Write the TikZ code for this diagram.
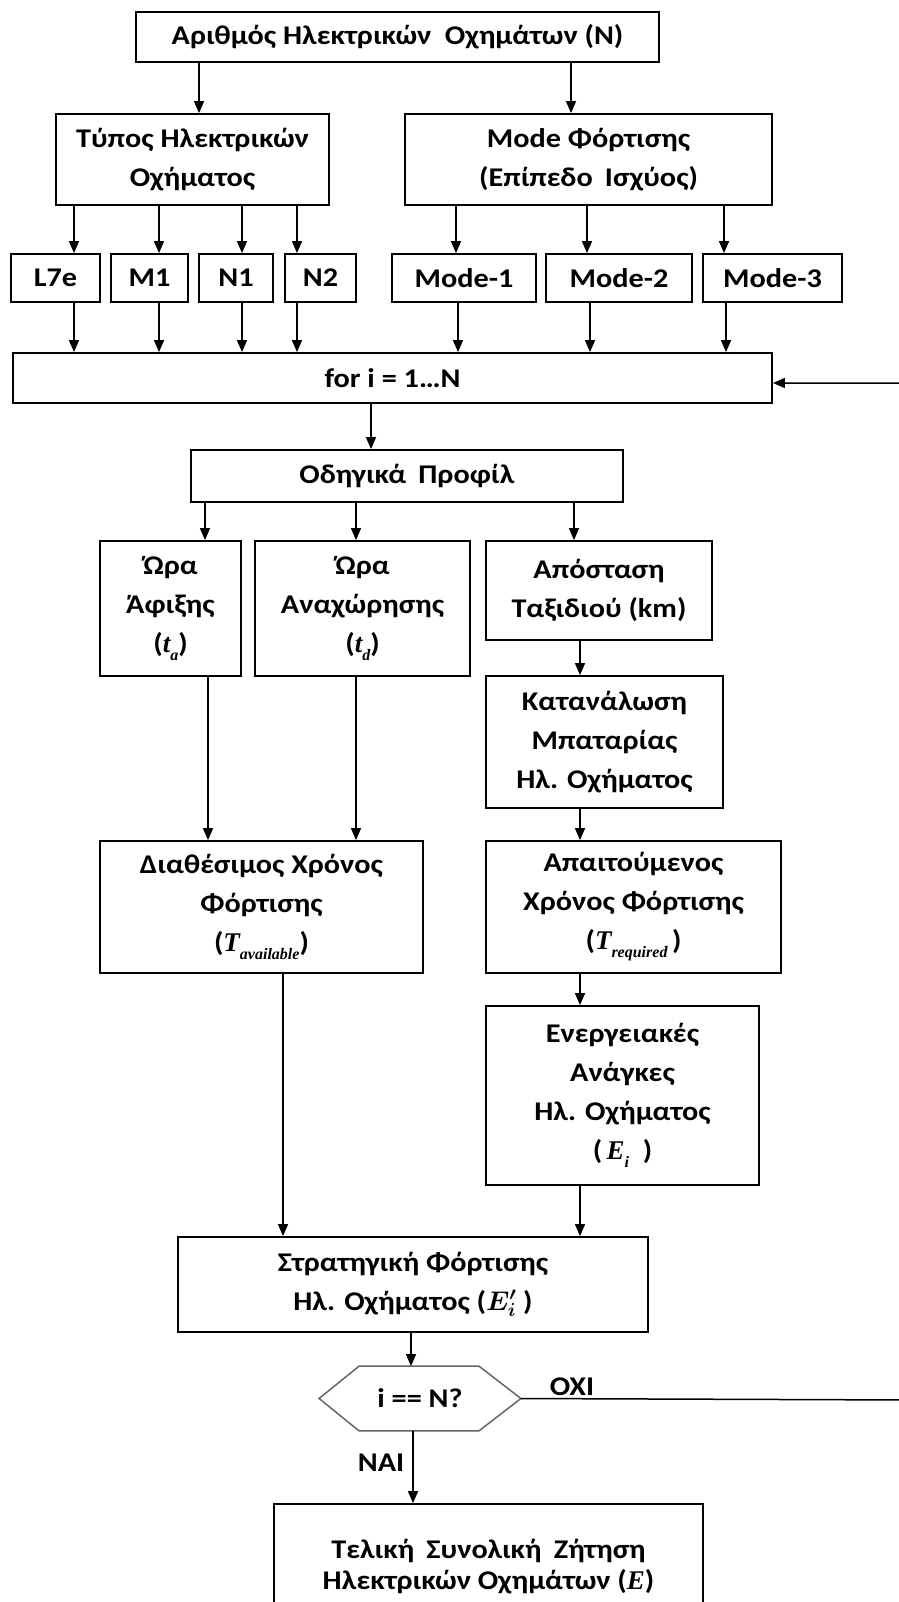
\RequirePackage{fix-cm}
\documentclass[tikz,border=0pt]{standalone}
\usepackage{fontspec}
\usepackage{bm}
\setmainfont{Carlito}[FakeStretch=1.12]
\newfontfamily\mf{Liberation Serif}
\usetikzlibrary{arrows.meta}
\newcommand\vsym[2]{{\mf\bfseries\itshape #1}\raisebox{-0.3em}{\fontsize{16}{16}\selectfont\mf\bfseries\itshape #2}}
\newcommand\mkbox[6]{\node[bx,minimum width={(#4)-(#2)},minimum height={(#5)-(#3)}] (#1) at ({((#2)+(#4))/2},{((#3)+(#5))/2}) {#6};}
\tikzset{
  bx/.style={draw=black,line width=1.8pt,rectangle,inner sep=0pt,align=center,
    font=\fontsize{27}{39}\selectfont\bfseries},
  arr/.style={line width=1.5pt,-{Triangle[length=12pt,width=10pt]}},
  lbl/.style={font=\fontsize{27}{30}\selectfont\bfseries,inner sep=0pt}
}
\begin{document}
\begin{tikzpicture}[x=1pt,y=-1pt]
\useasboundingbox (0,0) rectangle (898,1602);
\fill[white] (0,0) rectangle (898,1602);
\mkbox{top}{136}{12}{659}{62}{Αριθμός Ηλεκτρικών\hspace{0.25em} Οχημάτων (N)}
\mkbox{typos}{56}{114}{329}{205}{Τύπος Ηλεκτρικών\\Οχήματος}
\mkbox{mode}{405}{114}{772}{205}{Mode Φόρτισης\\(Επίπεδο\hspace{0.2em} Ισχύος)}
\mkbox{L7e}{11}{254}{100}{302}{L7e}
\mkbox{M1}{111}{254}{188}{302}{M1}
\mkbox{N1}{199}{254}{273}{302}{N1}
\mkbox{N2}{285}{254}{356}{302}{N2}
\mkbox{m1}{392}{254}{536}{302}{Mode-1}
\mkbox{m2}{546}{254}{692}{302}{Mode-2}
\mkbox{m3}{703}{254}{842}{302}{Mode-3}
\mkbox{for}{13}{353}{772}{403}{for i = 1…N}
\mkbox{odig}{191}{450}{623}{502}{Οδηγικά\hspace{0.2em} Προφίλ}
\mkbox{ora1}{100}{541}{241}{676}{Ώρα\\Άφιξης\\(\vsym{t}{a})}
\mkbox{ora2}{255}{541}{470}{676}{Ώρα\\Αναχώρησης\\(\vsym{t}{d})}
\mkbox{apost}{486}{541}{712}{640}{Απόσταση\\Ταξιδιού (km)}
\mkbox{katan}{486}{676}{723}{808}{Κατανάλωση\\Μπαταρίας\\Ηλ. Οχήματος}
\mkbox{diath}{100}{841}{423}{973}{Διαθέσιμος Χρόνος\\Φόρτισης\\(\vsym{T}{available})}
\mkbox{apait}{486}{841}{781}{973}{Απαιτούμενος\\Χρόνος Φόρτισης\\(\vsym{T}{required}\,)}
\mkbox{energ}{486}{1006}{759}{1185}{Ενεργειακές\\Ανάγκες\\Ηλ. Οχήματος\\(\,\vsym{E}{i}\ \ )}
\mkbox{strat}{178}{1237}{648}{1332}{Στρατηγική Φόρτισης\\Ηλ. Οχήματος ($\bm{E_i^{\prime}}$\ )}
\node[bx,draw=none,minimum width=200,minimum height=63] (hex) at (420,1398.5) {i == N?};
\draw[line width=1.5pt,draw=black!60] (hex.west) -- ([xshift=40pt]hex.north west) -- ([xshift=-42pt]hex.north east) -- (hex.east) -- ([xshift=-42pt]hex.south east) -- ([xshift=40pt]hex.south west) -- cycle;
\node[bx,minimum width=429,minimum height=120,font=\fontsize{27}{31}\selectfont\bfseries,text depth=0pt] (final) at (488.5,1564) {Τελική\hspace{0.2em} Συνολική\hspace{0.2em} Ζήτηση\\Ηλεκτρικών Οχημάτων (\vsym{E}{})};
% connectors
\draw[arr] (199,0 |- top.south) -- (199,0 |- typos.north);
\draw[arr] (571,0 |- top.south) -- (571,0 |- mode.north);
\draw[arr] (74,0 |- typos.south) -- (74,0 |- L7e.north);
\draw[arr] (159,0 |- typos.south) -- (159,0 |- M1.north);
\draw[arr] (242,0 |- typos.south) -- (242,0 |- N1.north);
\draw[arr] (297,0 |- typos.south) -- (297,0 |- N2.north);
\draw[arr] (456,0 |- mode.south) -- (456,0 |- m1.north);
\draw[arr] (587,0 |- mode.south) -- (587,0 |- m2.north);
\draw[arr] (724,0 |- mode.south) -- (724,0 |- m3.north);
\draw[arr] (74,0 |- L7e.south) -- (74,0 |- for.north);
\draw[arr] (159,0 |- M1.south) -- (159,0 |- for.north);
\draw[arr] (242,0 |- N1.south) -- (242,0 |- for.north);
\draw[arr] (297,0 |- N2.south) -- (297,0 |- for.north);
\draw[arr] (458,0 |- m1.south) -- (458,0 |- for.north);
\draw[arr] (590,0 |- m2.south) -- (590,0 |- for.north);
\draw[arr] (726,0 |- m3.south) -- (726,0 |- for.north);
\draw[arr] (371,0 |- for.south) -- (371,0 |- odig.north);
\draw[arr] (205,0 |- odig.south) -- (205,0 |- ora1.north);
\draw[arr] (356,0 |- odig.south) -- (356,0 |- ora2.north);
\draw[arr] (574,0 |- odig.south) -- (574,0 |- apost.north);
\draw[arr] (580,0 |- apost.south) -- (580,0 |- katan.north);
\draw[arr] (580,0 |- katan.south) -- (580,0 |- apait.north);
\draw[arr] (208,0 |- ora1.south) -- (208,0 |- diath.north);
\draw[arr] (356,0 |- ora2.south) -- (356,0 |- diath.north);
\draw[arr] (283,0 |- diath.south) -- (283,0 |- strat.north);
\draw[arr] (580,0 |- apait.south) -- (580,0 |- energ.north);
\draw[arr] (580,0 |- energ.south) -- (580,0 |- strat.north);
\draw[arr] (411,0 |- strat.south) -- (411,0 |- hex.north);
\draw[arr] (413,0 |- hex.south) -- (413,0 |- final.north);
\coordinate (rt) at (915,1400);
\draw[arr] (hex.east) -- (rt) -- (rt |- 0,383) -- (for.east |- 0,383);
\node[lbl] (oxi) at (572,1387) {OXI};
\node[lbl] (nai) at (381,1463) {NAI};
\end{tikzpicture}
\end{document}
